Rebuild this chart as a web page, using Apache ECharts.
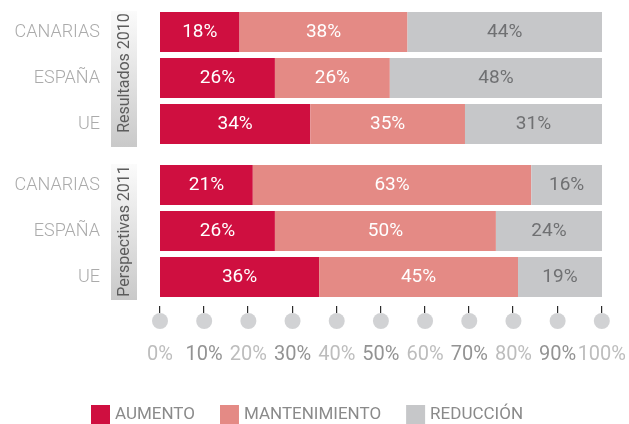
<!DOCTYPE html>
<html>
<head>
<meta charset="utf-8">
<script src="https://cdn.jsdelivr.net/npm/echarts@6/dist/echarts.min.js"></script>
<style>
  html, body { margin: 0; padding: 0; background: #fff; }
  #chart { width: 629px; height: 424px; }
</style>
</head>
<body>
<div id="chart"></div>
<script>
// Regions compared in each panel
const categories = ['CANARIAS', 'ESPAÑA', 'UE'];

// Resultados 2010 (%)
const aumento2010 = [18, 26, 34];
const mantenimiento2010 = [38, 26, 35];
const reduccion2010 = [44, 48, 31];

// Perspectivas 2011 (%)
const aumento2011 = [21, 26, 36];
const mantenimiento2011 = [63, 50, 45];
const reduccion2011 = [16, 24, 19];

// Scale ticks shown under the panels
const tickValues = [0, 10, 20, 30, 40, 50, 60, 70, 80, 90, 100];

const seriesNames = ['AUMENTO', 'MANTENIMIENTO', 'REDUCCIÓN'];
const panelTitles = ['Resultados 2010', 'Perspectivas 2011'];

const COLORS = ['#cf0f40', '#e48a85', '#c6c7c9'];
const FONT = 'Roboto, "Liberation Sans", Arial, sans-serif';

const chart = echarts.init(document.getElementById('chart'), null, { renderer: 'canvas' });

const GRID_LEFT = 160, GRID_RIGHT = 27;
const grids = [
  { left: GRID_LEFT, right: GRID_RIGHT, top: 9, height: 138 },
  { left: GRID_LEFT, right: GRID_RIGHT, top: 162, height: 138 },
  { left: GRID_LEFT, right: GRID_RIGHT, top: 306, height: 30 }
];

function panelXAxis(gridIndex) {
  return { type: 'value', gridIndex, min: 0, max: 100, show: false };
}
function panelYAxis(gridIndex) {
  return {
    type: 'category', gridIndex, data: categories, inverse: true,
    axisLine: { show: false }, axisTick: { show: false }, splitLine: { show: false },
    axisLabel: { margin: 60, color: '#ababab', fontSize: 18, fontWeight: 300, fontFamily: FONT }
  };
}

function barSeries(name, values, idx, axisIdx) {
  return {
    name, type: 'bar', stack: 'panel' + axisIdx,
    xAxisIndex: axisIdx, yAxisIndex: axisIdx,
    barWidth: 40, data: values,
    itemStyle: { color: COLORS[idx] },
    label: {
      show: true, position: 'inside', formatter: '{c}%',
      fontFamily: FONT, fontSize: 19,
      color: idx === 2 ? '#6f7072' : '#ffffff'
    },
    emphasis: { disabled: true }
  };
}

const series = [
  barSeries(seriesNames[0], aumento2010, 0, 0),
  barSeries(seriesNames[1], mantenimiento2010, 1, 0),
  barSeries(seriesNames[2], reduccion2010, 2, 0),
  barSeries(seriesNames[0], aumento2011, 0, 1),
  barSeries(seriesNames[1], mantenimiento2011, 1, 1),
  barSeries(seriesNames[2], reduccion2011, 2, 1),
  // small dark ticks hanging from the top of the scale strip
  {
    type: 'custom', xAxisIndex: 2, yAxisIndex: 2,
    data: tickValues.map(v => [v, 1]),
    silent: true, z: 5, clip: false,
    renderItem: (params, api) => {
      const p = api.coord([api.value(0), api.value(1)]);
      return {
        type: 'rect',
        shape: { x: Math.round(p[0]) - 1, y: p[1], width: 1.2, height: 7 },
        style: { fill: '#2b2b2b' }
      };
    }
  },
  // scale dots
  {
    type: 'scatter', xAxisIndex: 2, yAxisIndex: 2,
    symbol: 'circle', symbolSize: 16,
    itemStyle: { color: '#c6c7c9' },
    data: tickValues.map(v => [v, 0.5]),
    silent: true, z: 2
  }
];

// Side boxes with the rotated panel titles
const titleCenters = [73, 231];
const graphic = grids.slice(0, 2).map((g, i) => ({
  type: 'group',
  children: [
    {
      type: 'rect',
      shape: { x: 111, y: g.top + 2, width: 26, height: g.height - 2 },
      style: {
        fill: new echarts.graphic.LinearGradient(0, 0, 0, 1, [
          { offset: 0, color: '#fbfbfb' },
          { offset: 1, color: '#c9c9c9' }
        ])
      }
    },
    {
      type: 'text',
      x: 125, y: titleCenters[i],
      rotation: Math.PI / 2,
      style: {
        text: panelTitles[i], fill: '#5c5c5c',
        font: '16px ' + FONT, align: 'center', verticalAlign: 'middle'
      }
    }
  ]
}));

chart.setOption({
  animation: false,
  grid: grids,
  xAxis: [
    panelXAxis(0),
    panelXAxis(1),
    {
      type: 'value', gridIndex: 2, min: 0, max: 100, interval: 10, position: 'bottom',
      axisLine: { show: false }, axisTick: { show: false }, splitLine: { show: false },
      axisLabel: {
        margin: 9, showMinLabel: true, showMaxLabel: true, hideOverlap: false,
        formatter: (v) => (v / 10) % 2 === 0 ? '{a|' + v + '%}' : '{b|' + v + '%}',
        rich: {
          a: { color: '#bdbdbd', fontSize: 20, fontFamily: FONT },
          b: { color: '#939393', fontSize: 20, fontFamily: FONT }
        }
      }
    }
  ],
  yAxis: [
    panelYAxis(0),
    panelYAxis(1),
    { type: 'value', gridIndex: 2, min: 0, max: 1, show: false }
  ],
  legend: {
    data: seriesNames,
    left: 91, top: 405, padding: 0,
    icon: 'rect', itemWidth: 19, itemHeight: 19, itemGap: 25,
    selectedMode: false,
    textStyle: { color: '#8a8a8a', fontSize: 17, fontFamily: FONT }
  },
  graphic,
  series
});
</script>
</body>
</html>
